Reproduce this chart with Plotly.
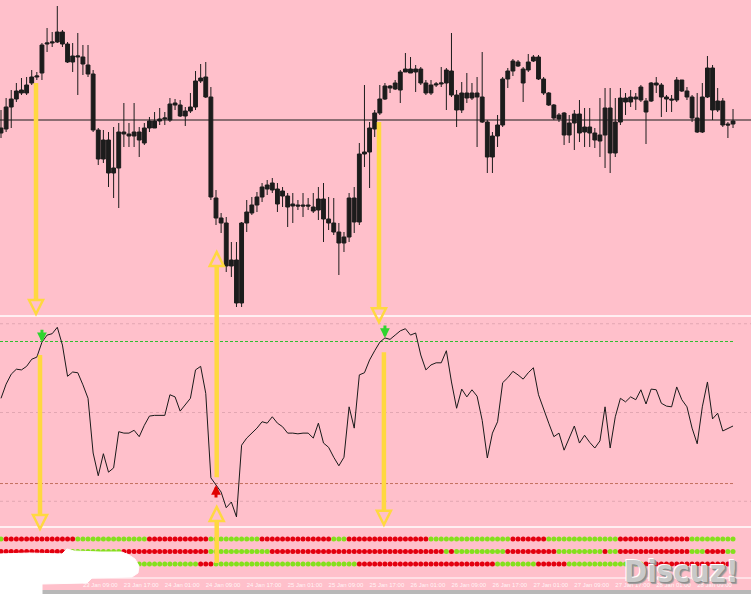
import plotly.graph_objects as go

W, H = 751, 594
PINK = "#FFC0CB"

# ---------------- data ----------------
bars = list(range(144))

open_ = [867, 871, 893, 901, 907, 907, 917, 923, 927, 956,
         957, 958, 968, 956, 944, 943, 943, 935, 926, 870,
         841, 860, 832, 832, 866, 866, 864, 868, 857, 872,
         879, 879, 881, 880, 895, 895, 889, 889, 893, 919,
         923, 903, 802, 782, 777, 740, 740, 697, 777, 787,
         795, 803, 811, 817, 811, 804, 804, 796, 795, 795,
         795, 793, 790, 801, 781, 777, 768, 763, 763, 802,
         778, 846, 848, 871, 887, 901, 914, 911, 910, 928,
         931, 931, 931, 917, 907, 915, 916, 917, 929, 905,
         890, 902, 907, 907, 903, 878, 843, 864, 875, 921,
         929, 938, 931, 930, 939, 943, 921, 907, 895, 885,
         887, 865, 877, 886, 868, 873, 867, 865, 865, 892,
         847, 878, 902, 898, 901, 900, 899, 899, 917, 915,
         903, 901, 900, 920, 909, 903, 882, 868, 903, 932,
         890, 899, 876, 876]

high = [890, 902, 910, 917, 922, 923, 930, 928, 957, 972,
        968, 994, 970, 958, 957, 967, 955, 955, 930, 872,
        870, 868, 873, 877, 897, 877, 897, 873, 877, 883,
        888, 892, 888, 902, 901, 900, 893, 907, 929, 936,
        938, 913, 810, 787, 783, 758, 758, 778, 800, 803,
        808, 817, 820, 822, 817, 813, 807, 807, 800, 807,
        802, 807, 813, 817, 803, 802, 777, 768, 807, 813,
        857, 915, 878, 890, 915, 917, 915, 920, 930, 947,
        943, 935, 933, 920, 920, 918, 933, 932, 967, 910,
        918, 927, 917, 923, 948, 880, 868, 885, 923, 932,
        941, 940, 933, 946, 945, 945, 923, 908, 896, 887,
        888, 885, 890, 900, 892, 892, 872, 902, 912, 912,
        902, 912, 907, 910, 907, 915, 902, 918, 923, 917,
        905, 905, 923, 920, 913, 905, 907, 917, 944, 935,
        912, 902, 878, 891]

low = [862, 868, 872, 898, 905, 905, 915, 920, 920, 948,
       953, 957, 953, 937, 928, 905, 925, 923, 868, 835,
       837, 813, 802, 792, 853, 853, 853, 843, 855, 868,
       872, 875, 875, 878, 890, 883, 874, 887, 890, 917,
       902, 800, 775, 767, 728, 723, 693, 693, 768, 785,
       788, 798, 805, 807, 788, 793, 773, 777, 790, 783,
       790, 787, 780, 758, 770, 765, 725, 748, 758, 767,
       775, 833, 812, 863, 885, 900, 907, 910, 897, 928,
       927, 908, 915, 905, 905, 913, 913, 890, 903, 873,
       887, 897, 900, 853, 877, 827, 827, 853, 873, 912,
       924, 933, 898, 928, 938, 920, 905, 894, 880, 878,
       855, 857, 850, 858, 853, 853, 852, 843, 832, 827,
       843, 875, 885, 893, 890, 898, 856, 898, 907, 883,
       888, 888, 898, 908, 900, 878, 867, 867, 902, 880,
       888, 873, 862, 872]

close = [872, 893, 901, 909, 910, 915, 923, 924, 955, 957,
         958, 968, 956, 938, 938, 944, 936, 926, 870, 841,
         860, 827, 827, 868, 868, 864, 868, 860, 872, 879,
         872, 881, 882, 896, 897, 884, 884, 893, 919, 922,
         903, 803, 782, 777, 734, 734, 697, 777, 788, 795,
         803, 813, 815, 810, 796, 809, 793, 794, 794, 794,
         794, 789, 801, 781, 777, 768, 757, 757, 802, 778,
         846, 848, 872, 887, 901, 914, 912, 917, 928, 931,
         927, 928, 917, 907, 915, 916, 917, 930, 905, 890,
         907, 907, 902, 903, 878, 843, 864, 875, 921, 929,
         939, 934, 917, 938, 943, 921, 907, 895, 882, 881,
         865, 877, 886, 867, 873, 867, 860, 859, 892, 847,
         878, 902, 898, 903, 903, 913, 888, 917, 915, 903,
         901, 900, 920, 909, 903, 882, 868, 903, 932, 890,
         899, 875, 875, 879]

osc = [20, 40, 54, 61, 60, 65, 75, 78, 99, 109,
       111, 120, 95, 51, 57, 56, 39, 20, -57, -89,
       -58, -84, -78, -27, -29, -29, -25, -34, -18, -5,
       -4, -4, -4, 25, 22, 2, 11, 20, 60, 65,
       27, -92, -102, -112, -134, -126, -147, -46, -36, -29,
       -22, -13, -15, -6, -15, -20, -29, -29, -30, -29,
       -29, -36, -15, -43, -49, -63, -75, -63, 8, -22,
       53, 56, 74, 87, 99, 105, 103, 109, 115, 118,
       109, 112, 81, 60, 67, 70, 70, 87, 43, 6,
       33, 22, 32, 23, -11, -64, -29, -13, 42, 49,
       58, 53, 47, 56, 63, 25, 4, -15, -34, -29,
       -53, -36, -19, -43, -32, -42, -50, -40, 8, -50,
       -6, 20, 15, 22, 18, 32, 12, 33, 32, 13,
       9, 8, 36, 18, 8, -22, -44, 8, 43, -9,
       -1, -26, -22, -19]

price_ref_line = 880
osc_levels_light = [125, 0, -125]
osc_level_up = 100
osc_level_dn = -100

# dot rows as (colour, run length)
row1_runs = [("G", 1), ("R", 14), ("G", 14), ("R", 12), ("G", 10), ("R", 14), ("G", 3),
             ("R", 16), ("G", 16), ("R", 7), ("G", 14), ("R", 14), ("G", 9)]
row2_runs = [("R", 13), ("G", 11), ("R", 17), ("G", 12), ("R", 34), ("G", 1), ("R", 1),
             ("G", 10), ("R", 10), ("G", 9), ("R", 1), ("G", 2), ("R", 14), ("G", 3),
             ("R", 4), ("G", 2)]
row3_runs = [("R", 27), ("G", 12), ("R", 3), ("G", 28), ("R", 27), ("G", 8), ("R", 6),
             ("G", 15), ("R", 18)]
dot_rows = [1, 2, 3]

sig_down_bars = [8, 75]
sig_up_bars = [42]

label_bars = [16, 24, 32, 40, 48, 56, 64, 72, 80, 88, 96, 104, 112, 120, 128, 136]
label_text = ["23 Jan 09:00", "23 Jan 17:00", "24 Jan 01:00", "24 Jan 09:00",
              "24 Jan 17:00", "25 Jan 01:00", "25 Jan 09:00", "25 Jan 17:00",
              "26 Jan 01:00", "26 Jan 09:00", "26 Jan 17:00", "27 Jan 01:00",
              "27 Jan 09:00", "27 Jan 17:00", "28 Jan 01:00", "28 Jan 09:00"]

# hand-drawn yellow arrows: bar position, tail (panel, value), tip (panel, value)
arrow_bar = [6.84, 7.62, 42.14, 42.14, 73.84, 74.8]
arrow_from = [("price", 917), ("osc", 81), ("osc", -91), ("dots", 2.92), ("price", 878), ("osc", 85)]
arrow_to = [("price", 686), ("osc", -164), ("price", 748), ("osc", -133), ("osc", 127), ("osc", -158)]

# ---------------- layout geometry ----------------
X_LO, X_HI = -0.1954, 146.51
TOP_DOM = [1 - 316 / H, 1.0]
MID_DOM = [1 - 527 / H, 1 - 316 / H]
BOT_DOM = [1 - 578 / H, 1 - 527 / H]
TOP_RNG = [684, 1000]
MID_RNG = [-161.2, 135.9]
BOT_RNG = [4.12, 0.04]
panels = {"price": (TOP_DOM, TOP_RNG), "osc": (MID_DOM, MID_RNG), "dots": (BOT_DOM, BOT_RNG)}


def xp(i):
    return (i - X_LO) / (X_HI - X_LO)


def yp(panel, v):
    (d0, d1), (r0, r1) = panels[panel]
    return d0 + (v - r0) / (r1 - r0) * (d1 - d0)


def px2paper(x, y):
    return x / W, 1 - y / H


def expand(runs):
    out = []
    for c, n in runs:
        out += [c] * n
    return out


RED, GREEN = "#E3000F", "#84E01C"
YELLOW = "#FFD840"
CANDLE = "#1c1c1c"

fig = go.Figure()

fig.add_trace(go.Candlestick(
    x=bars, open=open_, high=high, low=low, close=close,
    increasing=dict(line=dict(color=CANDLE, width=1), fillcolor=CANDLE),
    decreasing=dict(line=dict(color=CANDLE, width=1), fillcolor=CANDLE),
    whiskerwidth=0, xaxis="x", yaxis="y", hoverinfo="skip"))

fig.add_trace(go.Scatter(x=bars, y=osc, mode="lines", line=dict(color="#1a1a1a", width=1),
                         xaxis="x", yaxis="y2", hoverinfo="skip"))

for row, runs in zip(dot_rows, [row1_runs, row2_runs, row3_runs]):
    cols = [RED if c == "R" else GREEN for c in expand(runs)]
    fig.add_trace(go.Scatter(x=bars, y=[row] * len(bars), mode="markers",
                             marker=dict(size=5, color=cols, line=dict(width=0)),
                             xaxis="x", yaxis="y3", hoverinfo="skip"))

shapes = []
# price reference line
shapes.append(dict(type="line", xref="paper", yref="y", x0=0, x1=1, y0=price_ref_line, y1=price_ref_line,
                   line=dict(color="#1a1a1a", width=1.2), layer="below"))
# oscillator levels
for lv in osc_levels_light:
    shapes.append(dict(type="line", xref="paper", yref="y2", x0=0, x1=1, y0=lv, y1=lv,
                       line=dict(color="#E2A6B2", width=1, dash="dot"), layer="below"))
shapes.append(dict(type="line", xref="x", yref="y2", x0=X_LO, x1=bars[-1], y0=osc_level_up, y1=osc_level_up,
                   line=dict(color="#2FBF2F", width=1, dash="3px,2px"), layer="below"))
shapes.append(dict(type="line", xref="x", yref="y2", x0=X_LO, x1=bars[-1], y0=osc_level_dn, y1=osc_level_dn,
                   line=dict(color="#C4705E", width=1, dash="3px,2px"), layer="below"))
# window separators
for ypix, wdt in [(316, 1.6), (527, 1.6), (578, 1.0)]:
    yy = 1 - ypix / H
    shapes.append(dict(type="line", xref="paper", yref="paper", x0=0, x1=1, y0=yy, y1=yy,
                       line=dict(color="white", width=wdt), layer="above"))
# bottom band
shapes.append(dict(type="rect", xref="paper", yref="paper", x0=42 / W, x1=1, y0=0, y1=1 - 590 / H,
                   fillcolor="#B8B8B8", line=dict(width=0), layer="above"))
# white eraser blob
blob_px = [(0, 554), (30, 553), (62, 554), (67, 549), (74, 551), (100, 552), (122, 552),
           (129, 555), (135, 559), (139, 566), (138, 573), (132, 577), (92, 578), (87, 583),
           (42, 584), (42, 594), (0, 594)]
pts = [px2paper(x, y) for x, y in blob_px]
path = "M " + " L ".join(f"{a:.5f},{b:.5f}" for a, b in pts) + " Z"
shapes.append(dict(type="path", xref="paper", yref="paper", path=path,
                   fillcolor="white", line=dict(color="white", width=1), layer="above"))

# yellow arrows
HEAD_W, HEAD_H = 14, 14
for b, (pf, vf), (pt, vt) in zip(arrow_bar, arrow_from, arrow_to):
    xt = xp(b)
    yf = yp(pf, vf)
    yt = yp(pt, vt)
    down = yt < yf
    yb = yt + HEAD_H / H if down else yt - HEAD_H / H
    shapes.append(dict(type="line", xref="paper", yref="paper", x0=xt, x1=xt, y0=yf, y1=yb,
                       line=dict(color=YELLOW, width=4.5), layer="above"))
    hw = HEAD_W / 2 / W
    hp = f"M {xt - hw:.5f},{yb:.5f} L {xt + hw:.5f},{yb:.5f} L {xt:.5f},{yt:.5f} Z"
    shapes.append(dict(type="path", xref="paper", yref="paper", path=hp,
                       fillcolor="rgba(0,0,0,0)", line=dict(color=YELLOW, width=2.5), layer="above"))

annotations = []
for i in sig_down_bars:
    annotations.append(dict(x=i, y=osc[i], xref="x", yref="y2", text="", showarrow=True,
                            arrowhead=2, arrowsize=0.65, arrowwidth=3, arrowcolor="#2ED42E",
                            ax=0, ay=-14, standoff=0))
for i in sig_up_bars:
    annotations.append(dict(x=i, y=osc[i], xref="x", yref="y2", text="", showarrow=True,
                            arrowhead=2, arrowsize=0.65, arrowwidth=3, arrowcolor="#E00000",
                            ax=0, ay=14, standoff=0))
annotations.append(dict(x=681 / W, y=1 - 571 / H, xref="paper", yref="paper", text="Discuz!",
                        showarrow=False, xanchor="center", yanchor="middle",
                        font=dict(family="DejaVu Sans Condensed", size=31,
                                  color="#C9C9C9", weight="bold",
                                  shadow="-1px -1px 0 #ffffff, 1px 1px 0 #8c8c8c, 2px 2px 1px #9a9a9a")))

fig.update_layout(
    width=W, height=H, autosize=False,
    margin=dict(l=0, r=0, t=0, b=0, pad=0, autoexpand=False),
    paper_bgcolor=PINK, plot_bgcolor=PINK,
    showlegend=False, hovermode=False,
    boxgap=0.25, boxgroupgap=0,
    font=dict(family="Liberation Sans"),
    xaxis=dict(range=[X_LO, X_HI], anchor="y3", showgrid=False, zeroline=False, showline=False,
               automargin=False, tickangle=0,
               tickmode="array", tickvals=label_bars, ticktext=label_text, ticks="",
               ticklabelposition="outside right", ticklabelstandoff=2,
               tickfont=dict(size=6, color="rgba(255,255,255,0.85)", family="Liberation Sans"),
               rangeslider=dict(visible=False), fixedrange=True),
    yaxis=dict(domain=TOP_DOM, range=TOP_RNG, visible=False, fixedrange=True, automargin=False),
    yaxis2=dict(domain=MID_DOM, range=MID_RNG, visible=False, fixedrange=True, automargin=False),
    yaxis3=dict(domain=BOT_DOM, range=BOT_RNG, visible=False, fixedrange=True, automargin=False),
    shapes=shapes,
    annotations=annotations,
)

fig.write_html("out.html", config={"displayModeBar": False},
               post_script="document.body.style.margin='0px';document.body.style.overflow='hidden';")
